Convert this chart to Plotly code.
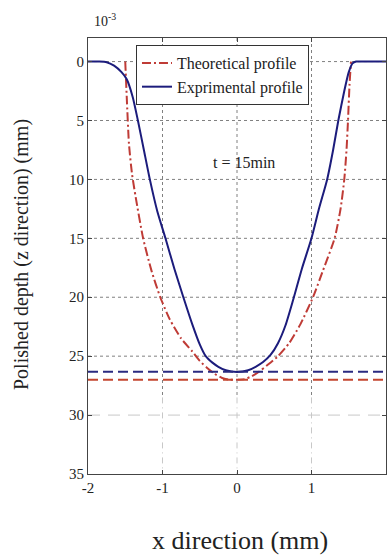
import plotly.graph_objects as go

# Experimental profile (depth in 1e-3 mm)
exp_x = [-2.0, -1.85, -1.75, -1.65, -1.55, -1.48, -1.40, -1.33, -1.25, -1.17, -1.07,
         -0.96, -0.84, -0.72, -0.6, -0.5, -0.42, -0.33, -0.25, -0.15, 0.0,
         0.15, 0.25, 0.35, 0.45, 0.55, 0.65, 0.75, 0.87, 1.0, 1.1, 1.21, 1.29, 1.36,
         1.44, 1.5, 1.55, 1.6, 1.8, 2.0]
exp_y = [0.0, 0.0, 0.05, 0.35, 0.9, 1.5, 3.0, 5.0, 7.5, 10.0, 12.7,
         15.0, 17.6, 20.0, 22.3, 24.0, 25.0, 25.55, 25.9, 26.2, 26.35,
         26.2, 25.9, 25.5, 24.9, 23.9, 22.4, 20.3, 17.6, 15.0, 12.5, 10.0, 7.5, 5.0,
         2.5, 0.9, 0.15, 0.0, 0.0, 0.0]

# Theoretical profile
th_x = [-1.5, -1.48, -1.45, -1.41, -1.36, -1.26, -1.15, -1.03, -0.9, -0.75,
        -0.6, -0.5, -0.4, -0.3, -0.2, -0.1, 0.0, 0.1, 0.2, 0.3, 0.4, 0.55, 0.7,
        0.85, 1.02, 1.15, 1.31, 1.39, 1.44, 1.47, 1.49, 1.51, 1.53]
th_y = [0.0, 3.0, 7.0, 9.5, 11.5, 15.0, 17.7, 20.0, 21.9, 23.5,
        24.6, 25.4, 26.0, 26.5, 26.85, 27.0, 27.0, 26.95, 26.7, 26.3, 25.8, 25.0, 23.9,
        22.3, 20.0, 17.8, 15.0, 12.5, 10.0, 7.5, 5.0, 2.0, 0.0]

# Maximum depth reference levels
exp_max_depth = 26.33
th_max_depth = 27.0

x_ticks = [-2, -1, 0, 1, 2]
y_ticks = [0, 5, 10, 15, 20, 25, 30, 35]
x_range = [-2, 2]
y_range = [35, -2]

SERIF = "Liberation Serif"
INK = "#222222"
BLUE = "#1c1c7c"
RED = "#bf3b36"

fig = go.Figure()

fig.add_trace(go.Scatter(
    x=th_x, y=th_y, mode="lines", name="Theoretical profile",
    line=dict(color=RED, width=2, dash="9px,3px,2px,3px", shape="spline", smoothing=0.6),
))
fig.add_trace(go.Scatter(
    x=exp_x, y=exp_y, mode="lines", name="Exprimental profile",
    line=dict(color=BLUE, width=2, shape="spline", smoothing=0.6),
))
fig.add_trace(go.Scatter(
    x=x_range, y=[exp_max_depth] * 2, mode="lines", showlegend=False,
    line=dict(color="#2a2a80", width=2, dash="10px,5px"),
))
fig.add_trace(go.Scatter(
    x=x_range, y=[th_max_depth] * 2, mode="lines", showlegend=False,
    line=dict(color="#c4452f", width=2, dash="10px,5px"),
))

# Grid: dotted in the upper part, light dashes lower down
grid_split = 28.5
shapes = []
for gx in x_ticks[1:-1]:
    shapes.append(dict(type="line", xref="x", yref="y", x0=gx, x1=gx, y0=y_range[1], y1=grid_split,
                       line=dict(color="#808080", width=1, dash="dot"), layer="below"))
    shapes.append(dict(type="line", xref="x", yref="y", x0=gx, x1=gx, y0=grid_split, y1=y_range[0],
                       line=dict(color="#c8c8c8", width=1, dash="6px,4px,1px,4px"), layer="below"))
for gy in y_ticks[:-2]:
    shapes.append(dict(type="line", xref="x", yref="y", x0=x_range[0], x1=x_range[1], y0=gy, y1=gy,
                       line=dict(color="#808080", width=1, dash="dot"), layer="below"))
shapes.append(dict(type="line", xref="x", yref="y", x0=x_range[0], x1=x_range[1], y0=30, y1=30,
                   line=dict(color="#c8c8c8", width=1, dash="12px,8px"), layer="below"))

fig.update_layout(
    width=389, height=558,
    margin=dict(l=88, r=3, t=38, b=84),
    paper_bgcolor="white", plot_bgcolor="white",
    font=dict(family=SERIF, size=15, color=INK),
    shapes=shapes,
    showlegend=True,
    legend=dict(
        x=0.161, y=0.984, xanchor="left", yanchor="top",
        bgcolor="white", bordercolor="#333333", borderwidth=1,
        font=dict(family=SERIF, size=16, color=INK),
        itemwidth=30, tracegroupgap=0,
        entrywidth=150, entrywidthmode="pixels",
    ),
    annotations=[
        dict(text="t = 15min", x=0.1, y=8.6, xref="x", yref="y", showarrow=False,
             font=dict(family=SERIF, size=16, color=INK)),
        dict(text="10<sup>-3</sup>", x=(105 - 88) / 298, y=(474 - 20) / 436,
             xref="paper", yref="paper", showarrow=False,
             xanchor="center", yanchor="middle",
             font=dict(family=SERIF, size=14, color=INK)),
        dict(text="x direction (mm)", x=(240 - 88) / 298, y=(474 - 540) / 436,
             xref="paper", yref="paper", showarrow=False, yanchor="middle",
             font=dict(family=SERIF, size=26, color=INK)),
        dict(text="Polished depth (z direction) (mm)", x=(22 - 88) / 298, y=(474 - 255) / 436,
             xref="paper", yref="paper", showarrow=False, textangle=-90,
             xanchor="center", yanchor="middle",
             font=dict(family=SERIF, size=20, color=INK)),
    ],
)

axis_style = dict(
    showgrid=False, zeroline=False,
    showline=True, linecolor="#444444", linewidth=1, mirror="ticks",
    ticks="inside", ticklen=4, tickcolor="#444444",
    tickfont=dict(family=SERIF, size=15, color=INK),
)
fig.update_xaxes(range=x_range, tickvals=x_ticks, ticktext=[str(v) for v in x_ticks], **axis_style)
fig.update_yaxes(range=y_range, tickvals=y_ticks, ticktext=[str(v) for v in y_ticks], **axis_style)

fig.write_html("out.html")
